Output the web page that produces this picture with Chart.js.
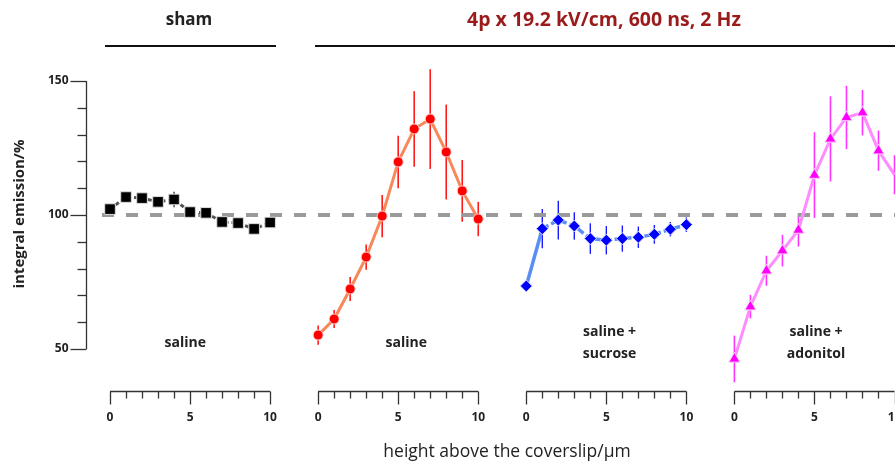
<!DOCTYPE html>
<html>
<head>
<meta charset="utf-8">
<script src="https://cdn.jsdelivr.net/npm/chart.js@4.4.1/dist/chart.umd.min.js"></script>
<style>
  body { margin: 0; background: #fff; overflow: hidden; }
  canvas { display: block; }
</style>
</head>
<body>
<canvas id="chart" width="895" height="462"></canvas>
<script>
// heights above the coverslip (um), same for every panel
var heights = [0, 1, 2, 3, 4, 5, 6, 7, 8, 9, 10];
var xTicks = [0, 5, 10];
var yTicks = [50, 100, 150];
// each panel sits 13 units to the right of the previous one
var panelOffsets = [0, 13, 26, 39];

var shamVals     = [102.2, 106.7, 106.3, 104.9, 105.8, 101.1, 100.8, 97.4, 97.0, 94.8, 97.2];
var shamErr      = [1.2, 1.3, 1.2, 1.2, 2.9, 1.3, 1.5, 1.0, 1.0, 1.2, 1.0];
var salineVals   = [55.2, 61.2, 72.4, 84.3, 99.6, 119.8, 132.1, 135.8, 123.5, 109.0, 98.5];
var salineErr    = [3.6, 3.4, 4.5, 4.7, 7.9, 9.8, 14.1, 18.6, 17.7, 11.5, 6.4];
var sucroseVals  = [73.5, 94.9, 98.1, 95.9, 91.2, 90.6, 91.2, 91.7, 92.8, 94.7, 96.4];
var sucroseErr   = [0, 7.3, 7.2, 5.1, 5.7, 5.3, 4.9, 4.0, 3.5, 2.7, 2.7];
var adonitolVals = [46.3, 65.8, 79.2, 86.7, 94.4, 114.9, 128.4, 136.4, 138.2, 124.0, 115.0];
var adonitolErr  = [8.7, 4.4, 5.6, 5.9, 6.2, 16.0, 15.9, 11.8, 8.5, 7.5, 7.3];

var refLevel = 100;
var refRange = [-0.5, 49.2];

function pts(offset, vals, errs) {
  return heights.map(function(h, i) {
    return { x: offset + h, y: vals[i], err: errs[i] };
  });
}

var FONT = '"Open Sans", "DejaVu Sans", sans-serif';

// error bars, drawn under the lines and markers
var errorBars = {
  id: 'errorBars',
  beforeDatasetsDraw: function(chart) {
    var ctx = chart.ctx, xs = chart.scales.x, ys = chart.scales.y;
    ctx.save();
    chart.data.datasets.forEach(function(ds) {
      if (!ds.errColor) return;
      ctx.strokeStyle = ds.errColor;
      ctx.lineWidth = ds.errWidth;
      ds.data.forEach(function(p) {
        if (!p.err) return;
        var px = xs.getPixelForValue(p.x);
        ctx.beginPath();
        ctx.moveTo(px, ys.getPixelForValue(p.y - p.err));
        ctx.lineTo(px, ys.getPixelForValue(p.y + p.err));
        ctx.stroke();
      });
    });
    ctx.restore();
  }
};

// broken axes, headers and labels
var decorations = {
  id: 'decorations',
  afterDraw: function(chart) {
    var ctx = chart.ctx, xs = chart.scales.x, ys = chart.scales.y;
    ctx.save();
    ctx.strokeStyle = '#333';
    ctx.fillStyle = '#222';
    ctx.lineWidth = 1.3;

    // y axis
    var ax = Math.round(chart.chartArea.left) + 0.5;
    ctx.beginPath();
    ctx.moveTo(ax, ys.getPixelForValue(150));
    ctx.lineTo(ax, ys.getPixelForValue(50));
    ctx.stroke();
    for (var v = 50; v <= 150; v += 10) {
      var py = Math.round(ys.getPixelForValue(v)) + 0.5;
      var major = yTicks.indexOf(v) >= 0;
      ctx.beginPath();
      ctx.moveTo(ax - (major ? 16 : 9), py);
      ctx.lineTo(ax, py);
      ctx.stroke();
    }
    ctx.font = 'bold 12px ' + FONT;
    ctx.textAlign = 'right';
    ctx.textBaseline = 'middle';
    yTicks.forEach(function(t) {
      ctx.fillText(String(t), ax - 18, ys.getPixelForValue(t));
    });

    // x axes, one per panel
    var base = Math.round(chart.chartArea.bottom) + 0.5;
    ctx.textAlign = 'center';
    ctx.textBaseline = 'middle';
    panelOffsets.forEach(function(off) {
      ctx.beginPath();
      ctx.moveTo(xs.getPixelForValue(off), base);
      ctx.lineTo(xs.getPixelForValue(off + 10), base);
      ctx.stroke();
      heights.forEach(function(h) {
        var px = Math.round(xs.getPixelForValue(off + h)) + 0.5;
        var major = xTicks.indexOf(h) >= 0;
        ctx.beginPath();
        ctx.moveTo(px, base);
        ctx.lineTo(px, base + (major ? 13 : 7));
        ctx.stroke();
      });
      xTicks.forEach(function(t) {
        ctx.fillText(String(t), xs.getPixelForValue(off + t), base + 26);
      });
    });

    // axis titles
    ctx.font = '17.5px ' + FONT;
    ctx.fillText('height above the coverslip/\u03bcm', 507, 452);
    ctx.save();
    ctx.translate(20, 214);
    ctx.rotate(-Math.PI / 2);
    ctx.font = 'bold 15px ' + FONT;
    ctx.fillText('integral emission/%', 0, 0);
    ctx.restore();

    // headers
    ctx.font = 'bold 17px ' + FONT;
    ctx.fillText('sham', 189, 20);
    ctx.fillStyle = '#9b1a1a';
    ctx.font = 'bold 19.5px ' + FONT;
    ctx.fillText('4p x 19.2 kV/cm, 600 ns, 2 Hz', 604, 20);
    ctx.strokeStyle = '#111';
    ctx.lineWidth = 2;
    ctx.beginPath();
    ctx.moveTo(105, 46); ctx.lineTo(276, 46);
    ctx.moveTo(315, 46); ctx.lineTo(895, 46);
    ctx.stroke();

    // panel labels
    ctx.fillStyle = '#222';
    ctx.font = 'bold 14px ' + FONT;
    ctx.fillText('saline', xs.getPixelForValue(4.7), 343);
    ctx.fillText('saline', xs.getPixelForValue(13 + 5.5), 343);
    ctx.fillText('saline +', xs.getPixelForValue(26 + 5.2), 332);
    ctx.fillText('sucrose', xs.getPixelForValue(26 + 5.2), 354);
    ctx.fillText('saline +', xs.getPixelForValue(39 + 5.1), 332);
    ctx.fillText('adonitol', xs.getPixelForValue(39 + 5.1), 354);
    ctx.restore();
  }
};

new Chart(document.getElementById('chart'), {
  type: 'line',
  data: {
    datasets: [
      {
        data: pts(panelOffsets[0], shamVals, shamErr),
        borderColor: '#555', borderWidth: 3, borderDash: [4, 3],
        pointStyle: 'rect', pointRadius: 7.5, pointBackgroundColor: '#000',
        pointBorderColor: '#ddd', pointBorderWidth: 1,
        errColor: '#111', errWidth: 1.2, order: 1, clip: false
      },
      {
        data: pts(panelOffsets[1], salineVals, salineErr),
        borderColor: '#f8875a', borderWidth: 3,
        pointStyle: 'circle', pointRadius: 5, pointBackgroundColor: '#ff0000',
        pointBorderColor: '#f2d0d0', pointBorderWidth: 1,
        errColor: '#ff1a1a', errWidth: 1.6, order: 1, clip: false
      },
      {
        data: pts(panelOffsets[2], sucroseVals, sucroseErr),
        borderColor: '#5b8ef5', borderWidth: 3.5,
        segment: { borderDash: function(c) { return c.p0DataIndex === 0 ? [] : [7, 3]; } },
        pointStyle: 'rectRot', pointRadius: 6, pointBackgroundColor: '#0000ff',
        pointBorderColor: '#d8dcf8', pointBorderWidth: 1,
        errColor: '#1a1aff', errWidth: 1.4, order: 1, clip: false
      },
      {
        data: pts(panelOffsets[3], adonitolVals, adonitolErr),
        borderColor: '#ff8cff', borderWidth: 3,
        pointStyle: 'triangle', pointRadius: 6.5, pointBackgroundColor: '#ff00ff',
        pointBorderColor: '#f2d8f2', pointBorderWidth: 1,
        errColor: '#ff33ff', errWidth: 1.6, order: 1, clip: false
      },
      {
        data: [{ x: refRange[0], y: refLevel }, { x: refRange[1], y: refLevel }],
        borderColor: '#9a9a9a', borderWidth: 4, borderDash: [12, 12],
        pointRadius: 0, order: 10, clip: false
      }
    ]
  },
  options: {
    responsive: false,
    animation: false,
    devicePixelRatio: 1,
    // right side keeps ~9px reserved for point overflow, so the range ends at 48.5
    layout: { padding: { left: 86, right: 0, top: 60, bottom: 71 } },
    plugins: { legend: { display: false }, tooltip: { enabled: false } },
    scales: {
      x: { type: 'linear', min: -1.5, max: 48.5, display: false },
      y: { min: 34.33, max: 157.836, display: false }
    }
  },
  plugins: [errorBars, decorations]
});
</script>
</body>
</html>
